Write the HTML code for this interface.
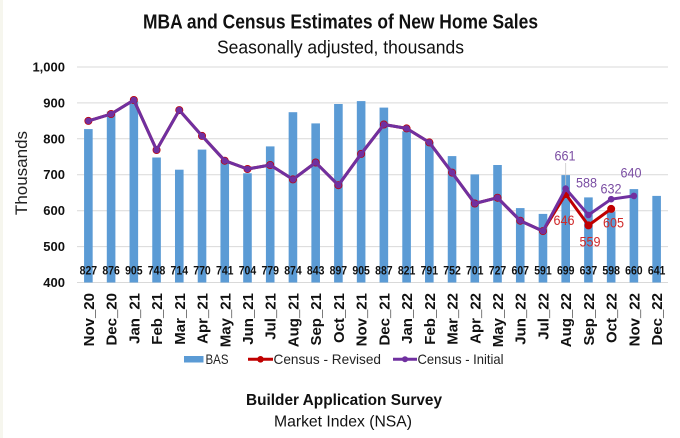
<!DOCTYPE html>
<html><head><meta charset="utf-8"><style>
html,body{margin:0;padding:0;background:#fff;}
svg{display:block;font-family:"Liberation Sans",Arial,sans-serif;}
</style></head><body>
<svg width="680" height="438" viewBox="0 0 680 438" xmlns="http://www.w3.org/2000/svg">
<rect x="0" y="0" width="680" height="438" fill="#ffffff"/>
<rect x="0" y="0" width="3" height="438" fill="#f6f6ee"/>
<!-- titles -->
<text x="340.5" y="28.3" text-anchor="middle" font-size="20" font-weight="bold" fill="#111" textLength="395" lengthAdjust="spacingAndGlyphs">MBA and Census Estimates of New Home Sales</text>
<text x="340.5" y="53.3" text-anchor="middle" font-size="18" fill="#111" textLength="247" lengthAdjust="spacingAndGlyphs">Seasonally adjusted, thousands</text>
<!-- gridlines -->
<g stroke="#d9d9d9" stroke-width="1">
<line x1="77" x2="668" y1="67" y2="67"/>
<line x1="77" x2="668" y1="102.9" y2="102.9"/>
<line x1="77" x2="668" y1="138.8" y2="138.8"/>
<line x1="77" x2="668" y1="174.7" y2="174.7"/>
<line x1="77" x2="668" y1="210.7" y2="210.7"/>
<line x1="77" x2="668" y1="246.6" y2="246.6"/>
<line x1="77" x2="668" y1="282.5" y2="282.5"/>
</g>
<!-- y ticks -->
<g font-size="13" font-weight="bold" fill="#111" text-anchor="end">
<text x="65" y="71.5">1,000</text>
<text x="65" y="107.4">900</text>
<text x="65" y="143.3">800</text>
<text x="65" y="179.2">700</text>
<text x="65" y="215.2">600</text>
<text x="65" y="251.1">500</text>
<text x="65" y="287">400</text>
</g>
<text transform="translate(27,173) rotate(-90)" text-anchor="middle" font-size="17" fill="#222">Thousands</text>
<!-- bars -->
<g fill="#5b9bd5">
<rect x="84.07" y="129.1" width="8.6" height="153.4"/>
<rect x="106.8" y="111.5" width="8.6" height="171.0"/>
<rect x="129.53" y="101.1" width="8.6" height="181.4"/>
<rect x="152.26" y="157.5" width="8.6" height="125.0"/>
<rect x="174.99" y="169.7" width="8.6" height="112.8"/>
<rect x="197.72" y="149.6" width="8.6" height="132.9"/>
<rect x="220.45" y="160.0" width="8.6" height="122.5"/>
<rect x="243.18" y="173.3" width="8.6" height="109.2"/>
<rect x="265.91" y="146.4" width="8.6" height="136.1"/>
<rect x="288.64" y="112.2" width="8.6" height="170.3"/>
<rect x="311.37" y="123.4" width="8.6" height="159.1"/>
<rect x="334.1" y="104.0" width="8.6" height="178.5"/>
<rect x="356.83" y="101.1" width="8.6" height="181.4"/>
<rect x="379.56" y="107.6" width="8.6" height="174.9"/>
<rect x="402.29" y="131.3" width="8.6" height="151.2"/>
<rect x="425.02" y="142.1" width="8.6" height="140.4"/>
<rect x="447.75" y="156.1" width="8.6" height="126.4"/>
<rect x="470.48" y="174.4" width="8.6" height="108.1"/>
<rect x="493.21" y="165.0" width="8.6" height="117.5"/>
<rect x="515.94" y="208.1" width="8.6" height="74.4"/>
<rect x="538.67" y="213.9" width="8.6" height="68.6"/>
<rect x="561.4" y="175.1" width="8.6" height="107.4"/>
<rect x="584.13" y="197.4" width="8.6" height="85.1"/>
<rect x="606.86" y="211.4" width="8.6" height="71.1"/>
<rect x="629.59" y="189.1" width="8.6" height="93.4"/>
<rect x="652.32" y="195.9" width="8.6" height="86.6"/>
</g>
<!-- bar labels -->
<g font-size="12" font-weight="bold" fill="#111" text-anchor="middle">
<text x="88.37" y="274.5" textLength="17.5" lengthAdjust="spacingAndGlyphs">827</text>
<text x="111.1" y="274.5" textLength="17.5" lengthAdjust="spacingAndGlyphs">876</text>
<text x="133.83" y="274.5" textLength="17.5" lengthAdjust="spacingAndGlyphs">905</text>
<text x="156.56" y="274.5" textLength="17.5" lengthAdjust="spacingAndGlyphs">748</text>
<text x="179.29" y="274.5" textLength="17.5" lengthAdjust="spacingAndGlyphs">714</text>
<text x="202.02" y="274.5" textLength="17.5" lengthAdjust="spacingAndGlyphs">770</text>
<text x="224.75" y="274.5" textLength="17.5" lengthAdjust="spacingAndGlyphs">741</text>
<text x="247.48" y="274.5" textLength="17.5" lengthAdjust="spacingAndGlyphs">704</text>
<text x="270.21" y="274.5" textLength="17.5" lengthAdjust="spacingAndGlyphs">779</text>
<text x="292.94" y="274.5" textLength="17.5" lengthAdjust="spacingAndGlyphs">874</text>
<text x="315.67" y="274.5" textLength="17.5" lengthAdjust="spacingAndGlyphs">843</text>
<text x="338.4" y="274.5" textLength="17.5" lengthAdjust="spacingAndGlyphs">897</text>
<text x="361.13" y="274.5" textLength="17.5" lengthAdjust="spacingAndGlyphs">905</text>
<text x="383.86" y="274.5" textLength="17.5" lengthAdjust="spacingAndGlyphs">887</text>
<text x="406.59" y="274.5" textLength="17.5" lengthAdjust="spacingAndGlyphs">821</text>
<text x="429.32" y="274.5" textLength="17.5" lengthAdjust="spacingAndGlyphs">791</text>
<text x="452.05" y="274.5" textLength="17.5" lengthAdjust="spacingAndGlyphs">752</text>
<text x="474.78" y="274.5" textLength="17.5" lengthAdjust="spacingAndGlyphs">701</text>
<text x="497.51" y="274.5" textLength="17.5" lengthAdjust="spacingAndGlyphs">727</text>
<text x="520.24" y="274.5" textLength="17.5" lengthAdjust="spacingAndGlyphs">607</text>
<text x="542.97" y="274.5" textLength="17.5" lengthAdjust="spacingAndGlyphs">591</text>
<text x="565.7" y="274.5" textLength="17.5" lengthAdjust="spacingAndGlyphs">699</text>
<text x="588.43" y="274.5" textLength="17.5" lengthAdjust="spacingAndGlyphs">637</text>
<text x="611.16" y="274.5" textLength="17.5" lengthAdjust="spacingAndGlyphs">598</text>
<text x="633.89" y="274.5" textLength="17.5" lengthAdjust="spacingAndGlyphs">660</text>
<text x="656.62" y="274.5" textLength="17.5" lengthAdjust="spacingAndGlyphs">641</text>
</g>
<!-- red series (under) -->
<polyline fill="none" stroke="#c00000" stroke-width="3" stroke-linejoin="round" points="88.37,120.9 111.1,114.0 133.83,100.0 156.56,150.0 179.29,110.1 202.02,135.9 224.75,160.7 247.48,169.0 270.21,165.0 292.94,179.4 315.67,162.5 338.4,185.2 361.13,153.9 383.86,124.5 406.59,128.4 429.32,142.4 452.05,172.6 474.78,203.5 497.51,197.7 520.24,220.7 542.97,231.1 565.7,194.1 588.43,225.4 611.16,208.9"/>
<g fill="#c00000">
<circle cx="88.37" cy="120.9" r="4"/><circle cx="111.1" cy="114.0" r="4"/><circle cx="133.83" cy="100.0" r="4"/><circle cx="156.56" cy="150.0" r="4"/><circle cx="179.29" cy="110.1" r="4"/><circle cx="202.02" cy="135.9" r="4"/><circle cx="224.75" cy="160.7" r="4"/><circle cx="247.48" cy="169.0" r="4"/><circle cx="270.21" cy="165.0" r="4"/><circle cx="292.94" cy="179.4" r="4"/><circle cx="315.67" cy="162.5" r="4"/><circle cx="338.4" cy="185.2" r="4"/><circle cx="361.13" cy="153.9" r="4"/><circle cx="383.86" cy="124.5" r="4"/><circle cx="406.59" cy="128.4" r="4"/><circle cx="429.32" cy="142.4" r="4"/><circle cx="452.05" cy="172.6" r="4"/><circle cx="474.78" cy="203.5" r="4"/><circle cx="497.51" cy="197.7" r="4"/><circle cx="520.24" cy="220.7" r="4"/><circle cx="542.97" cy="231.1" r="4"/><circle cx="565.7" cy="194.1" r="4"/><circle cx="588.43" cy="225.4" r="4"/><circle cx="611.16" cy="208.9" r="4"/>
</g>
<!-- purple series -->
<polyline fill="none" stroke="#7030a0" stroke-width="3" stroke-linejoin="round" points="88.37,120.9 111.1,114.0 133.83,100.0 156.56,150.0 179.29,110.1 202.02,135.9 224.75,160.7 247.48,169.0 270.21,165.0 292.94,179.4 315.67,162.5 338.4,185.2 361.13,153.9 383.86,124.5 406.59,128.4 429.32,142.4 452.05,172.6 474.78,203.5 497.51,197.7 520.24,220.7 542.97,231.1 565.7,188.7 588.43,215.0 611.16,199.2 633.89,195.9"/>
<g fill="#7030a0">
<circle cx="88.37" cy="120.9" r="3.3"/><circle cx="111.1" cy="114.0" r="3.3"/><circle cx="133.83" cy="100.0" r="3.3"/><circle cx="156.56" cy="150.0" r="3.3"/><circle cx="179.29" cy="110.1" r="3.3"/><circle cx="202.02" cy="135.9" r="3.3"/><circle cx="224.75" cy="160.7" r="3.3"/><circle cx="247.48" cy="169.0" r="3.3"/><circle cx="270.21" cy="165.0" r="3.3"/><circle cx="292.94" cy="179.4" r="3.3"/><circle cx="315.67" cy="162.5" r="3.3"/><circle cx="338.4" cy="185.2" r="3.3"/><circle cx="361.13" cy="153.9" r="3.3"/><circle cx="383.86" cy="124.5" r="3.3"/><circle cx="406.59" cy="128.4" r="3.3"/><circle cx="429.32" cy="142.4" r="3.3"/><circle cx="452.05" cy="172.6" r="3.3"/><circle cx="474.78" cy="203.5" r="3.3"/><circle cx="497.51" cy="197.7" r="3.3"/><circle cx="520.24" cy="220.7" r="3.3"/><circle cx="542.97" cy="231.1" r="3.3"/><circle cx="565.7" cy="188.7" r="3.3"/><circle cx="588.43" cy="215.0" r="3.3"/><circle cx="611.16" cy="199.2" r="3.3"/><circle cx="633.89" cy="195.9" r="3.3"/>
</g>
<line x1="565.7" y1="163" x2="565.7" y2="185" stroke="#c8c8c8" stroke-width="0.8"/>
<!-- data labels -->
<g font-size="14" text-anchor="middle">
<text x="565" y="160.7" fill="#7b4ea3" textLength="21" lengthAdjust="spacingAndGlyphs">661</text>
<text x="586.5" y="187.3" fill="#7b4ea3" textLength="21" lengthAdjust="spacingAndGlyphs">588</text>
<text x="611" y="193.3" fill="#7b4ea3" textLength="21" lengthAdjust="spacingAndGlyphs">632</text>
<text x="631" y="177.3" fill="#7b4ea3" textLength="21" lengthAdjust="spacingAndGlyphs">640</text>
<text x="564" y="225" fill="#d02a2a" textLength="21" lengthAdjust="spacingAndGlyphs">646</text>
<text x="590" y="246.7" fill="#d02a2a" textLength="21" lengthAdjust="spacingAndGlyphs">559</text>
<text x="613.5" y="227.3" fill="#d02a2a" textLength="21" lengthAdjust="spacingAndGlyphs">605</text>
</g>
<!-- x labels -->
<g font-size="15" font-weight="bold" fill="#111" text-anchor="end">
<text transform="translate(93.9,293) rotate(-90)">Nov_20</text>
<text transform="translate(116.6,293) rotate(-90)">Dec_20</text>
<text transform="translate(139.3,293) rotate(-90)">Jan_21</text>
<text transform="translate(162.1,293) rotate(-90)">Feb_21</text>
<text transform="translate(184.8,293) rotate(-90)">Mar_21</text>
<text transform="translate(207.5,293) rotate(-90)">Apr_21</text>
<text transform="translate(230.3,293) rotate(-90)">May_21</text>
<text transform="translate(253,293) rotate(-90)">Jun_21</text>
<text transform="translate(275.7,293) rotate(-90)">Jul_21</text>
<text transform="translate(298.4,293) rotate(-90)">Aug_21</text>
<text transform="translate(321.2,293) rotate(-90)">Sep_21</text>
<text transform="translate(343.9,293) rotate(-90)">Oct_21</text>
<text transform="translate(366.6,293) rotate(-90)">Nov_21</text>
<text transform="translate(389.4,293) rotate(-90)">Dec_21</text>
<text transform="translate(412.1,293) rotate(-90)">Jan_22</text>
<text transform="translate(434.8,293) rotate(-90)">Feb_22</text>
<text transform="translate(457.6,293) rotate(-90)">Mar_22</text>
<text transform="translate(480.3,293) rotate(-90)">Apr_22</text>
<text transform="translate(503,293) rotate(-90)">May_22</text>
<text transform="translate(525.7,293) rotate(-90)">Jun_22</text>
<text transform="translate(548.5,293) rotate(-90)">Jul_22</text>
<text transform="translate(571.2,293) rotate(-90)">Aug_22</text>
<text transform="translate(593.9,293) rotate(-90)">Sep_22</text>
<text transform="translate(616.7,293) rotate(-90)">Oct_22</text>
<text transform="translate(639.4,293) rotate(-90)">Nov_22</text>
<text transform="translate(662.1,293) rotate(-90)">Dec_22</text>
</g>
<!-- legend -->
<rect x="184" y="356" width="19.5" height="6.5" fill="#5b9bd5"/>
<text x="205.5" y="364.2" font-size="14" fill="#222" textLength="23" lengthAdjust="spacingAndGlyphs">BAS</text>
<line x1="248" y1="359.3" x2="273" y2="359.3" stroke="#c00000" stroke-width="3"/>
<circle cx="260.5" cy="359.3" r="3.3" fill="#c00000"/>
<text x="273.5" y="364.2" font-size="14" fill="#222" textLength="107.5" lengthAdjust="spacingAndGlyphs">Census - Revised</text>
<line x1="393" y1="359.3" x2="417" y2="359.3" stroke="#7030a0" stroke-width="3"/>
<circle cx="405" cy="359.3" r="3" fill="#7030a0"/>
<text x="417.5" y="364.2" font-size="14" fill="#222" textLength="86" lengthAdjust="spacingAndGlyphs">Census - Initial</text>
<!-- bottom text -->
<text x="344" y="405" text-anchor="middle" font-size="16" font-weight="bold" fill="#111" textLength="196" lengthAdjust="spacingAndGlyphs">Builder Application Survey</text>
<text x="343" y="426.7" text-anchor="middle" font-size="16" fill="#111" textLength="138" lengthAdjust="spacingAndGlyphs">Market Index (NSA)</text>
</svg>
</body></html>
